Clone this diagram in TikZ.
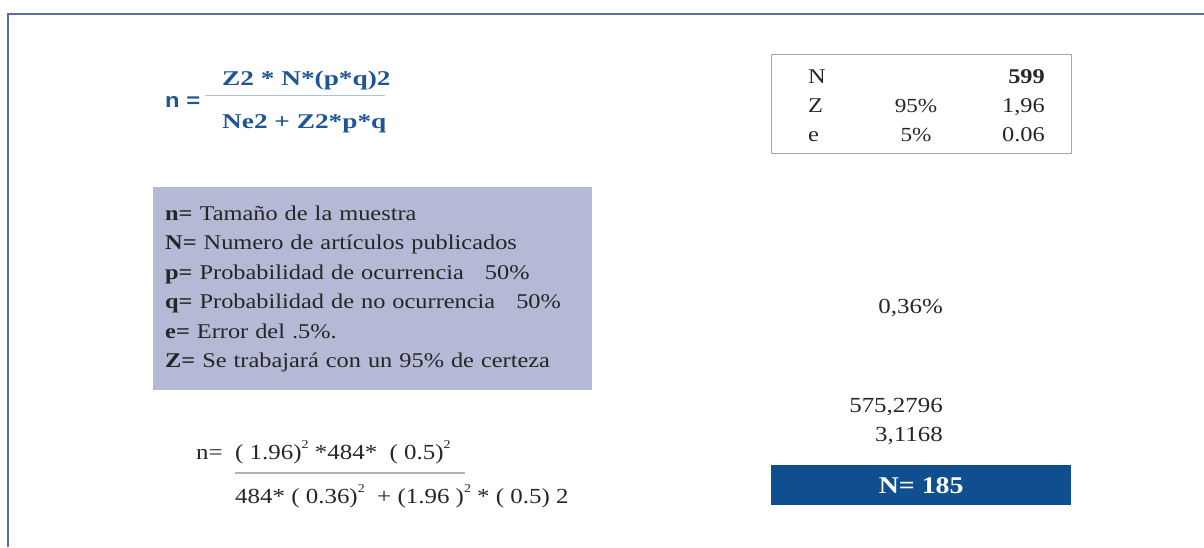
\documentclass[tikz,border=0pt]{standalone}
\usepackage{fontspec}
\setmainfont{Liberation Serif}[FakeStretch=1.16]
\newfontfamily\sansf{Liberation Sans}[FakeStretch=1.16]
\newfontfamily\widef{Liberation Serif}[FakeStretch=1.3]
\usetikzlibrary{positioning}
\definecolor{frameblue}{HTML}{5B6BAB}
\definecolor{formblue}{HTML}{1F5595}
\definecolor{lavender}{HTML}{B4B9D6}
\definecolor{darkblue}{HTML}{0F4E8F}
\definecolor{tablegray}{HTML}{A8A8A8}
\newcommand{\sqr}{\raisebox{0.5em}{\fontsize{12}{12}\selectfont 2}}
\tikzstyle{formula} = [inner sep=0pt, text=formblue, font=\fontsize{21}{24}\widef\bfseries]
\tikzstyle{plain} = [inner sep=0pt, text=black!85, font=\fontsize{21}{29.5}\selectfont]
\tikzstyle{calc} = [inner sep=0pt, text=black!85, font=\fontsize{21.5}{24}\selectfont]
\tikzstyle{legend} = [rectangle, fill=lavender, minimum width=439pt, minimum height=203pt, text width=415pt, align=left, inner xsep=12pt, anchor=north west, font=\fontsize{21}{29.5}\selectfont, text=black!85]
\tikzstyle{result} = [rectangle, fill=darkblue, minimum width=300pt, minimum height=40pt, anchor=north west, text=white, font=\fontsize{24}{28}\selectfont\bfseries]

\begin{document}
\begin{tikzpicture}[x=1pt, y=-1pt]
    \useasboundingbox (0,0) rectangle (1204,547);
    % frame
    \draw [frameblue, line width=2pt] (8,547) -- (8,14) -- (1204,14);

    % general formula
    \node (nEq) [formula, anchor=base west, font=\fontsize{20.5}{24}\sansf\bfseries] at (165,107) {n =};
    \node (numTop) [formula, anchor=base west] at (222,85) {Z2 * N*(p*q)2};
    \node (denTop) [formula, anchor=base west] at (222,128) {Ne2 + Z2*p*q};
    \draw [formblue!35, line width=0.8pt] (205,95) -- (385,95);

    % data table
    \node (table) [draw=tablegray, line width=1.2pt, minimum width=300pt, minimum height=99pt, anchor=north west] at (771,54) {};
    \node (tN) [plain, anchor=base west] at (808,83) {N};
    \node (tZ) [plain, anchor=base west] at (808,112) {Z};
    \node (te) [plain, anchor=base west] at (808,141) {e};
    \node (tZp) [plain, anchor=base, font=\fontsize{20}{29.5}\selectfont] at (916,112) {95\%};
    \node (tep) [plain, anchor=base, font=\fontsize{20}{29.5}\selectfont] at (916,141) {5\%};
    \node (tNv) [plain, anchor=base east, font=\fontsize{21}{29.5}\selectfont\bfseries] at (1045,83) {599};
    \node (tZv) [plain, anchor=base east] at (1045,112) {1,96};
    \node (tev) [plain, anchor=base east] at (1045,141) {0.06};

    % legend
    \node (legendBox) [legend] at (153,187) {%
        \textbf{n=} Tamaño de la muestra\\
        \textbf{N=} Numero de artículos publicados\\
        \textbf{p=} Probabilidad de ocurrencia\ \ \ 50\%\\
        \textbf{q=} Probabilidad de no ocurrencia\ \ \ 50\%\\
        \textbf{e=} Error del .5\%.\\
        \textbf{Z=} Se trabajará con un 95\% de certeza};

    % intermediate values
    \node (errVal) [plain, anchor=base east, font=\fontsize{21.5}{24}\selectfont] at (943,313) {0,36\%};
    \node (numVal) [plain, anchor=base east, font=\fontsize{21.5}{24}\selectfont] at (943,412) {575,2796};
    \node (denVal) [plain, anchor=base east, font=\fontsize{21.5}{24}\selectfont] at (943,441) {3,1168};

    % worked formula
    \node (nCalc) [calc, anchor=base west] at (196,459) {n=};
    \node (numCalc) [calc, anchor=base west] at (235,459) {( 1.96)\sqr{} *484*\ \ ( 0.5)\sqr};
    \node (denCalc) [calc, anchor=base west] at (235,503) {484* ( 0.36)\sqr\ \ + (1.96 )\sqr{} * ( 0.5) 2};
    \draw [black!30, line width=1.2pt] (235,473) -- (465,473);

    % result
    \node (final) [result] at (771,465) {N= 185};
\end{tikzpicture}
\end{document}
